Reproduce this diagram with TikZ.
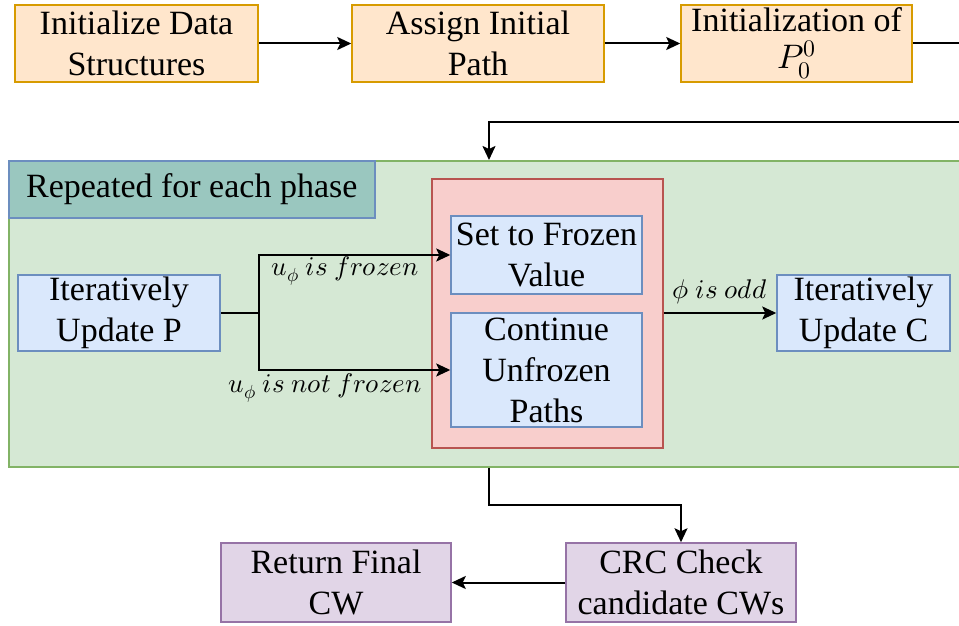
\documentclass[tikz,border=0pt]{standalone}
\usepackage{fontspec}
\usepackage{unicode-math}
\setmainfont{Liberation Serif}
\setmathfont{Latin Modern Math}
\usetikzlibrary{arrows.meta}
\definecolor{orangefill}{HTML}{FFE6CC}
\definecolor{orangeline}{HTML}{D79B00}
\definecolor{greenfill}{HTML}{D5E8D4}
\definecolor{greenline}{HTML}{82B366}
\definecolor{tealfill}{HTML}{9AC7BF}
\definecolor{blueline}{HTML}{6C8EBF}
\definecolor{bluefill}{HTML}{DAE8FC}
\definecolor{redfill}{HTML}{F8CECC}
\definecolor{redline}{HTML}{B85450}
\definecolor{purplefill}{HTML}{E1D5E7}
\definecolor{purpleline}{HTML}{9673A6}
\tikzset{
  box/.style={draw, line width=1.5pt, inner sep=0pt, align=center,
    font=\fontsize{34}{41}\selectfont},
  initbox/.style={box, fill=orangefill, draw=orangeline},
  bluebox/.style={box, fill=bluefill, draw=blueline},
  endbox/.style={box, fill=purplefill, draw=purpleline},
  conn/.style={line width=2pt, -{Stealth[length=14pt,width=13pt,inset=3pt]}},
  plainline/.style={line width=2pt},
  lbl/.style={font=\fontsize{27}{30}\selectfont, inner sep=1pt},
}
\begin{document}
\begin{tikzpicture}[x=1pt,y=-1pt]
\useasboundingbox (0,0) rectangle (959,626);
\clip (0,0) rectangle (959,626);

% top row: initialisation steps
\node[initbox, minimum width=243pt, minimum height=77pt] (init) at (136.5,43.5) {Initialize Data\\Structures};
\node[initbox, minimum width=252pt, minimum height=77pt] (assign) at (478,43.5) {Assign Initial\\Path};
\node[initbox, minimum width=231pt, minimum height=77pt] (pinit) at (796.5,43.5) {Initialization of\\[-4pt]$P_0^0$};
\coordinate (topexit) at (975,43.5);
\draw[conn] (init) -- (assign);
\draw[conn] (assign) -- (pinit);
\draw[plainline] (pinit) -- (topexit);

% per-phase loop container
\node[draw=greenline, fill=greenfill, line width=1.5pt, minimum width=967pt, minimum height=306pt, inner sep=0pt, anchor=north west] (phase) at (8,160) {};
\node[box, fill=tealfill, draw=blueline, minimum width=366pt, minimum height=57pt, anchor=north west] (title) at (8,160) {Repeated for each phase};

\coordinate (loopin) at (975,122);
\coordinate (loopturn) at (489,122);
\draw[conn] (loopin) -- (loopturn) -- (phase.north -| loopturn);

% decision group
\node[draw=redline, fill=redfill, line width=1.5pt, minimum width=231pt, minimum height=269pt, inner sep=0pt, anchor=north west] (group) at (431,178) {};
\node[bluebox, minimum width=191pt, minimum height=78pt] (frozen) at (546.5,255) {Set to Frozen\\Value};
\node[bluebox, minimum width=191pt, minimum height=114pt] (unfrozen) at (546.5,370) {Continue\\Unfrozen\\Paths};

\node[bluebox, minimum width=202pt, minimum height=76pt] (updp) at (119,313) {Iteratively\\Update P};
\node[bluebox, minimum width=173pt, minimum height=76pt] (updc) at (863.5,313) {Iteratively\\Update C};

\coordinate (split) at (259,313);
\draw[plainline] (updp) -- (split);
\draw[conn] (split) |- (frozen.west);
\draw[conn] (split) |- (unfrozen.west);
\node[lbl] (lfrozen) at (345,271) {$u_\phi\ is\ frozen$};
\node[lbl] (lnotfrozen) at (325,388) {$u_\phi\ is\ not\ frozen$};

\draw[conn] (group.east |- updc) -- (updc);
\node[lbl] (lodd) at (720,292) {$\phi\ is\ odd$};

% final checks
\node[endbox, minimum width=230pt, minimum height=79pt] (crc) at (681,582.5) {CRC Check\\candidate CWs};
\node[endbox, minimum width=230pt, minimum height=79pt] (ret) at (336,582.5) {Return Final\\CW};
\coordinate (loopout) at (489,505);
\draw[conn] (phase.south -| loopout) -- (loopout) -| (crc.north);
\draw[conn] (crc) -- (ret);
\end{tikzpicture}
\end{document}
